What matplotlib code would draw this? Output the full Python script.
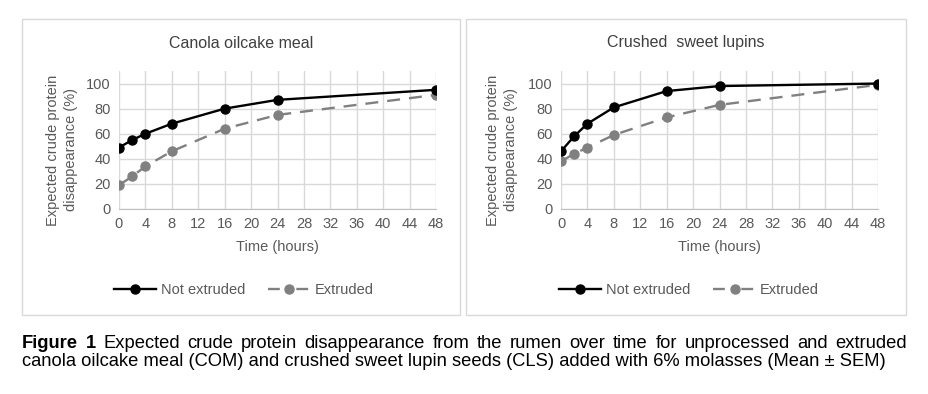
import matplotlib
matplotlib.use("Agg")
import matplotlib.pyplot as plt
from matplotlib.patches import Rectangle
from matplotlib.lines import Line2D

plt.rcParams['font.family'] = ['Liberation Sans', 'DejaVu Sans']

time_h = [0, 2, 4, 8, 16, 24, 48]
canola_not = [49, 55, 60, 68, 80, 87, 95]
canola_ext = [19, 26, 34, 46, 64, 75, 91]
lupin_not = [46, 58, 68, 81, 94, 98, 100]
lupin_ext = [38, 44, 49, 59, 73, 83, 99]
titles = ["Canola oilcake meal", "Crushed  sweet lupins"]
xticks = list(range(0, 49, 4))
yticks = [0, 20, 40, 60, 80, 100]
series_labels = ["Not extruded", "Extruded"]

W, H = 929, 394
fig = plt.figure(figsize=(W/100, H/100), dpi=100)

TXT = '#595959'
GRID = '#d9d9d9'

def fx(px): return px / W
def fy(py): return 1 - py / H

boxes = [(22, 460), (466, 906)]
axes_x = [(119, 436), (561, 878)]
ylab_x = [62, 502]
data = [(canola_not, canola_ext), (lupin_not, lupin_ext)]

for i in range(2):
    bx0, bx1 = boxes[i]
    fig.patches.append(Rectangle((fx(bx0), fy(315)), fx(bx1 - bx0), (315 - 19) / H,
                                 transform=fig.transFigure, fill=False,
                                 edgecolor=GRID, linewidth=1.0))
    ax0, ax1 = axes_x[i]
    ax = fig.add_axes([fx(ax0), fy(209), fx(ax1 - ax0), (209 - 71) / H])
    nd, ed = data[i]
    ax.plot(time_h, nd, color='black', lw=1.7, marker='o', ms=6.5, zorder=4)
    ax.plot(time_h, ed, color='#808080', lw=1.7, marker='o', ms=6.5,
            dashes=(5.5, 3.8), zorder=3)
    ax.set_xlim(0, 48)
    ax.set_ylim(0, 110)
    ax.set_xticks(xticks)
    ax.set_yticks(yticks)
    ax.grid(True, color=GRID, lw=1.0)
    ax.set_axisbelow(True)
    for s in ['top', 'right', 'left']:
        ax.spines[s].set_visible(False)
    ax.spines['bottom'].set_color('#bfbfbf')
    ax.tick_params(length=0, labelsize=10.5, colors=TXT, pad=6)
    ax.set_xlabel("Time (hours)", fontsize=10.5, color=TXT, labelpad=6)
    fig.text(fx((bx0 + bx1) / 2), fy(43), titles[i], ha='center', va='center',
             fontsize=11.5, color='#404040')
    fig.text(fx(ylab_x[i]), fy(150), "Expected crude protein\ndisappearance (%)",
             rotation=90, ha='center', va='center', fontsize=10.5, color=TXT,
             linespacing=1.45)
    h1 = Line2D([], [], color='black', lw=1.7, marker='o', ms=6.5)
    h2 = Line2D([], [], color='#808080', lw=1.7, marker='o', ms=6.5, dashes=(5.0, 7.0))
    fig.legend([h1, h2], series_labels, loc='center',
               bbox_to_anchor=(fx((bx0 + bx1) / 2 + 3), fy(290)),
               ncol=2, frameon=False, fontsize=10.5, labelcolor=TXT,
               handlelength=2.9, columnspacing=1.6, handletextpad=0.3)

# caption (justified first line)
line1 = ["Figure", "1", "Expected", "crude", "protein", "disappearance", "from", "the",
         "rumen", "over", "time", "for", "unprocessed", "and", "extruded"]
line2 = "canola oilcake meal (COM) and crushed sweet lupin seeds (CLS) added with 6% molasses (Mean ± SEM)"
cap_fs = 13.2
fig.canvas.draw()
r = fig.canvas.get_renderer()
texts = []
for j, w in enumerate(line1):
    t = fig.text(0, fy(343), w, fontsize=cap_fs, color='black', va='center',
                 fontweight='bold' if j < 2 else 'normal')
    texts.append(t)
widths = [t.get_window_extent(r).width for t in texts]
left, right = 22, 907
gap = (right - left - sum(widths)) / (len(texts) - 1)
x = left
for t, w in zip(texts, widths):
    t.set_x(fx(x))
    x += w + gap
fig.text(fx(22), fy(362), line2, fontsize=cap_fs, color='black', va='center')

fig.savefig("out.png", dpi=100)
